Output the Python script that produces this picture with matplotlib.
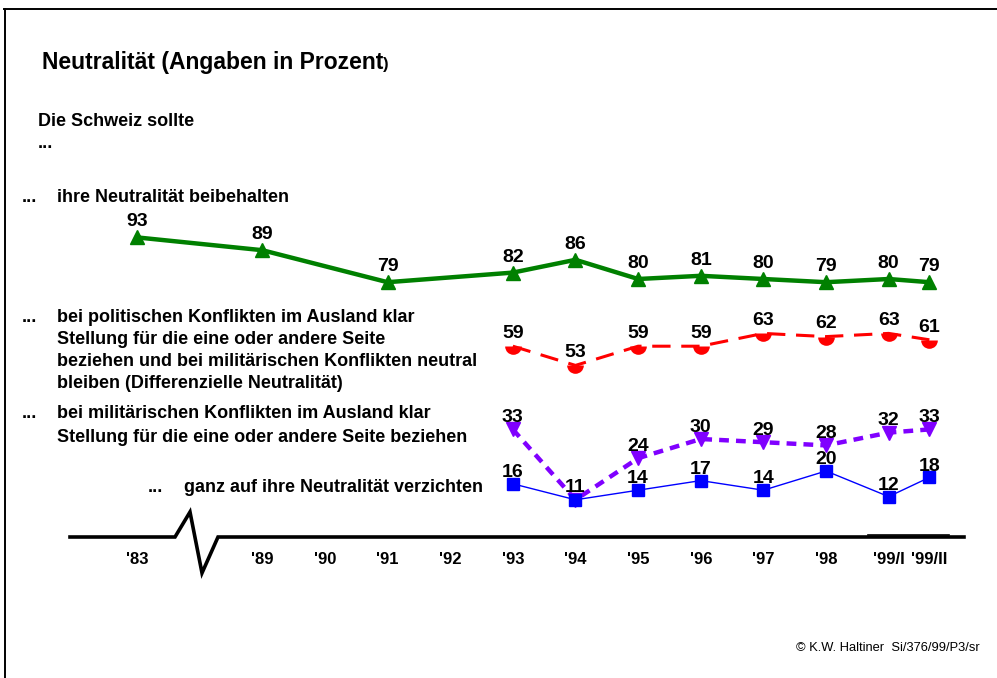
import numpy as np
import matplotlib.pyplot as plt
from matplotlib.lines import Line2D

plt.rcParams["font.family"] = ["Liberation Sans", "DejaVu Sans"]

W, H = 997, 678

# categories and their positions on the time axis ('83 -> '89 is a broken gap)
years = ["'83", "'89", "'90", "'91", "'92", "'93", "'94", "'95", "'96", "'97", "'98", "'99/I", "'99/II"]
x_pos = [0, 2, 3, 4, 5, 6, 7, 8, 9, 10, 11, 12, 12.65]

beib_years = ["'83", "'89", "'91", "'93", "'94", "'95", "'96", "'97", "'98", "'99/I", "'99/II"]
beibehalten = [93, 89, 79, 82, 86, 80, 81, 80, 79, 80, 79]

late_years = ["'93", "'94", "'95", "'96", "'97", "'98", "'99/I", "'99/II"]
differenziell = [59, 53, 59, 59, 63, 62, 63, 61]
militaerisch = [33, 11, 24, 30, 29, 28, 32, 33]
verzichten = [16, 11, 14, 17, 14, 20, 12, 18]

pos = dict(zip(years, x_pos))


def fx(p):
    return p / W


def fy(p):
    return 1 - p / H


fig = plt.figure(figsize=(W / 100, H / 100), dpi=100)
ax = fig.add_axes([0, 0, 1, 1])
# map pixels: x=0 at px 137, 62.64 px per step; y=0 at px 535, 3.2 px per unit
ax.set_xlim((0 - 137) / 62.64, (W - 137) / 62.64)
ax.set_ylim((535 - H) / 3.2, 535 / 3.2)
ax.axis("off")

series = [
    (beib_years, beibehalten, dict(color="#008000", lw=3.2, ls="-", marker="^", ms=10), 5),
    (late_years, differenziell, dict(color="#ff0000", lw=2.2, ls=(0, (6, 3.5)), marker="o",
                                     ms=12, fillstyle="bottom", markerfacecoloralt="none",
                                     mew=0), 3),
    (late_years, militaerisch, dict(color="#8000ff", lw=3.2, ls=(0, (2.2, 1.6)), marker="v", ms=10), 2.5),
    (late_years, verzichten, dict(color="#0000ff", lw=1.0, ls="-", marker="s", ms=8.5), 2),
]

done = set()
for yrs, vals, style, off in series:
    xs = [pos[y] for y in yrs]
    ax.plot(xs, vals, zorder=3, **style)
    for x, v in zip(xs, vals):
        if (x, v) in done:
            continue
        done.add((x, v))
        ax.annotate(str(v), (x, v), xytext=(0, off), textcoords="offset points",
                    ha="center", va="bottom", fontsize=14, fontweight="bold", zorder=4)

# category labels under the axis
for lab, x in zip(years, x_pos):
    ax.text(x, -7.6, lab, ha="center", va="center", fontsize=12, fontweight="bold")

# axis line with break
line_kw = dict(color="black", lw=2.6, solid_joinstyle="miter", transform=fig.transFigure)
fig.add_artist(Line2D([fx(70), fx(175), fx(190), fx(202), fx(218), fx(964)],
                      [fy(537), fy(537), fy(512), fy(573), fy(537), fy(537)], **line_kw))
fig.add_artist(Line2D([fx(868), fx(949)], [fy(535), fy(535)], color="black", lw=1.2,
                      transform=fig.transFigure))

# frame (top and left only)
fig.add_artist(Line2D([fx(4), fx(W)], [fy(9), fy(9)], color="black", lw=1.4, transform=fig.transFigure))
fig.add_artist(Line2D([fx(5), fx(5)], [fy(9), fy(H)], color="black", lw=1.4, transform=fig.transFigure))

# title
t = fig.text(fx(42), fy(62), "Neutralität (Angaben in Prozent", fontsize=16.5, fontweight="bold",
             va="center", ha="left")
ax.annotate(")", xy=(1, 0.08), xycoords=t, xytext=(0, 0), textcoords="offset points",
            fontsize=12, fontweight="bold", va="bottom", ha="left")

lab_kw = dict(fontsize=13, fontweight="bold", va="center", ha="left")
fig.text(fx(38), fy(122), "Die Schweiz sollte", **lab_kw)
fig.text(fx(38), fy(144), "...", **lab_kw)

fig.text(fx(22), fy(197), "...", **lab_kw)
fig.text(fx(57), fy(197), "ihre Neutralität beibehalten", **lab_kw)

fig.text(fx(22), fy(317), "...", **lab_kw)
red_lines = ["bei politischen Konflikten im Ausland klar",
             "Stellung für die eine oder andere Seite",
             "beziehen und bei militärischen Konflikten neutral",
             "bleiben (Differenzielle Neutralität)"]
for i, s in enumerate(red_lines):
    fig.text(fx(57), fy(317 + 22 * i), s, **lab_kw)

fig.text(fx(22), fy(414), "...", **lab_kw)
fig.text(fx(57), fy(414), "bei militärischen Konflikten im Ausland klar", **lab_kw)
fig.text(fx(57), fy(437), "Stellung für die eine oder andere Seite beziehen", **lab_kw)

fig.text(fx(148), fy(488), "...", **lab_kw)
fig.text(fx(184), fy(488), "ganz auf ihre Neutralität verzichten", **lab_kw)

fig.text(fx(980), fy(648), "© K.W. Haltiner  Si/376/99/P3/sr", fontsize=9.3, ha="right", va="center")

fig.savefig("out.png", dpi=100)
